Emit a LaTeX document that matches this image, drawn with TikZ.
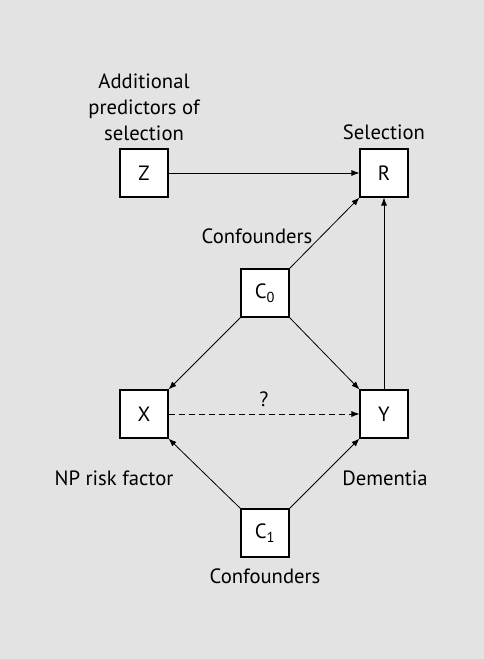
\documentclass[tikz,border=0pt]{standalone}
\usepackage{fontspec}
\setmainfont{PT Sans}
\usetikzlibrary{arrows.meta}
\definecolor{bggray}{RGB}{227,227,227}
\tikzset{
	var/.style={draw, line width=0.8pt, fill=white, minimum size=36pt, inner sep=0pt},
	edge/.style={-{Latex[length=6pt,width=4.5pt]}, line width=0.6pt},
	lbl/.style={align=center}
}
\begin{document}
\begin{tikzpicture}[x=0.75pt, y=-0.75pt, every node/.style={font=\fontsize{15.5}{19.5}\selectfont}]
	\fill[bggray] (0,0) rectangle (484,659);
	% variables
	\node[var] (Z) at (144,173) {Z};
	\node[var] (R) at (384,173) {R};
	\node[var] (C0) at (265,293) {C\textsubscript{0}};
	\node[var] (X) at (144,414) {X};
	\node[var] (Y) at (384,414) {Y};
	\node[var] (C1) at (265,533) {C\textsubscript{1}};
	% labels
	\node[lbl] (zlab) at (144,107) {Additional\\predictors of\\selection};
	\node[lbl] (rlab) at (384,132) {Selection};
	\node[lbl] (c0lab) at (257,236) {Confounders};
	\node[lbl] (xlab) at (114,478) {NP risk factor};
	\node[lbl] (ylab) at (385,478) {Dementia};
	\node[lbl] (c1lab) at (265,576) {Confounders};
	% arrows
	\draw[edge] (Z) -- (R);
	\draw[edge] (C0.north east) -- (R.south west);
	\draw[edge] (Y) -- (R);
	\draw[edge] (C0.south west) -- (X.north east);
	\draw[edge] (C0.south east) -- (Y.north west);
	\draw[edge] (C1.north west) -- (X.south east);
	\draw[edge] (C1.north east) -- (Y.south west);
	\draw[edge, dash pattern=on 4.5pt off 3pt] (X) -- node[above, inner sep=5pt] (q) {?} (Y);
\end{tikzpicture}
\end{document}
